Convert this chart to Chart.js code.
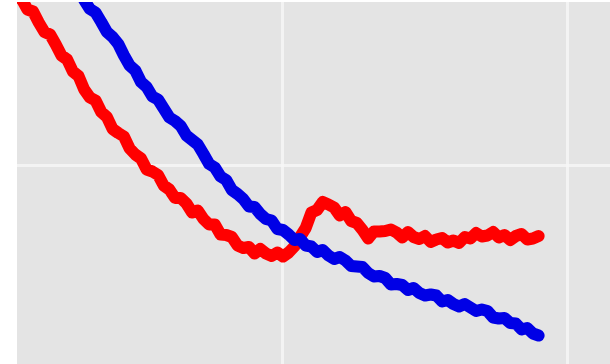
<!DOCTYPE html>
<html>
<head>
<meta charset="utf-8">
<script src="https://cdn.jsdelivr.net/npm/chart.js@4/dist/chart.umd.min.js"></script>
<style>
    html, body { margin: 0; padding: 0; background: #ffffff; }
    #chart { display: block; filter: blur(0.7px); }
</style>
</head>
<body>
<canvas id="chart" width="610" height="364"></canvas>
<script>
// training steps (every 2 epochs)
const steps = [];
for (let s = 0; s <= 190; s += 2) steps.push(s);

// red curve: drops, dips, jumps back up and flattens
const redLoss = [
    1.384, 1.368, 1.362, 1.336, 1.332, 1.311, 1.307, 1.285, 1.266, 1.261,
    1.241, 1.219, 1.211, 1.187, 1.178, 1.151, 1.135, 1.129, 1.106, 1.096,
    1.072, 1.064, 1.057, 1.033, 1.021, 1.013, 0.991, 0.987, 0.980, 0.959,
    0.951, 0.934, 0.934, 0.923, 0.905, 0.909, 0.892, 0.881, 0.881, 0.861,
    0.860, 0.856, 0.839, 0.834, 0.836, 0.823, 0.832, 0.823, 0.818, 0.825,
    0.817, 0.825, 0.837, 0.856, 0.874, 0.905, 0.910, 0.926, 0.921, 0.915,
    0.899, 0.906, 0.888, 0.884, 0.870, 0.853, 0.867, 0.867, 0.868, 0.871,
    0.865, 0.855, 0.866, 0.856, 0.852, 0.858, 0.846, 0.851, 0.854, 0.845,
    0.849, 0.844, 0.856, 0.853, 0.864, 0.857, 0.859, 0.866, 0.855, 0.860,
    0.850, 0.858, 0.862, 0.851, 0.853, 0.858
];

// blue curve: keeps decreasing
const blueLoss = [
    1.562, 1.545, 1.535, 1.512, 1.503, 1.481, 1.472, 1.459, 1.435, 1.424,
    1.413, 1.391, 1.374, 1.365, 1.351, 1.330, 1.312, 1.305, 1.286, 1.266,
    1.256, 1.242, 1.219, 1.199, 1.189, 1.166, 1.156, 1.137, 1.131, 1.113,
    1.095, 1.088, 1.078, 1.059, 1.050, 1.041, 1.022, 1.002, 0.995, 0.977,
    0.970, 0.950, 0.942, 0.932, 0.917, 0.916, 0.902, 0.892, 0.889, 0.872,
    0.870, 0.861, 0.850, 0.852, 0.839, 0.837, 0.826, 0.830, 0.819, 0.812,
    0.816, 0.809, 0.798, 0.797, 0.796, 0.784, 0.777, 0.778, 0.774, 0.761,
    0.762, 0.760, 0.750, 0.754, 0.744, 0.739, 0.741, 0.739, 0.727, 0.730,
    0.722, 0.717, 0.722, 0.715, 0.708, 0.711, 0.708, 0.695, 0.693, 0.694,
    0.684, 0.683, 0.671, 0.674, 0.663, 0.659
];

const xGrid = [100, 200];
const yGrid = [1.0];

function toPoints(values) {
    return values.map((v, i) => ({ x: steps[i], y: v }));
}

// grey panel behind the plot
const panelBackground = {
    id: 'panelBackground',
    beforeDraw(chart) {
        const { ctx, chartArea } = chart;
        ctx.save();
        ctx.fillStyle = '#e4e4e4';
        ctx.fillRect(chartArea.left, chartArea.top, chartArea.right - chartArea.left, chartArea.bottom - chartArea.top);
        ctx.restore();
    }
};

const gridStyle = {
    color: 'rgba(246, 246, 246, 0.85)',
    lineWidth: 3,
    drawTicks: false
};

new Chart(document.getElementById('chart'), {
    type: 'line',
    data: {
        datasets: [{
            data: toPoints(blueLoss),
            borderColor: '#0000e6',
            borderWidth: 12
        }, {
            data: toPoints(redLoss),
            borderColor: '#ff0000',
            borderWidth: 12
        }]
    },
    options: {
        responsive: false,
        animation: false,
        layout: { padding: { left: 17, top: 2, right: 0, bottom: 0 } },
        elements: {
            point: { radius: 0 },
            line: { tension: 0, borderJoinStyle: 'round', borderCapStyle: 'round' }
        },
        plugins: {
            legend: { display: false },
            tooltip: { enabled: false }
        },
        scales: {
            x: {
                type: 'linear',
                min: 6.34,
                max: 215.14,
                grid: gridStyle,
                border: { display: false },
                ticks: { display: false },
                afterBuildTicks: axis => { axis.ticks = xGrid.map(v => ({ value: v })); }
            },
            y: {
                type: 'linear',
                min: 0.602,
                max: 1.326,
                grid: gridStyle,
                border: { display: false },
                ticks: { display: false },
                afterBuildTicks: axis => { axis.ticks = yGrid.map(v => ({ value: v })); }
            }
        }
    },
    plugins: [panelBackground]
});
</script>
</body>
</html>
